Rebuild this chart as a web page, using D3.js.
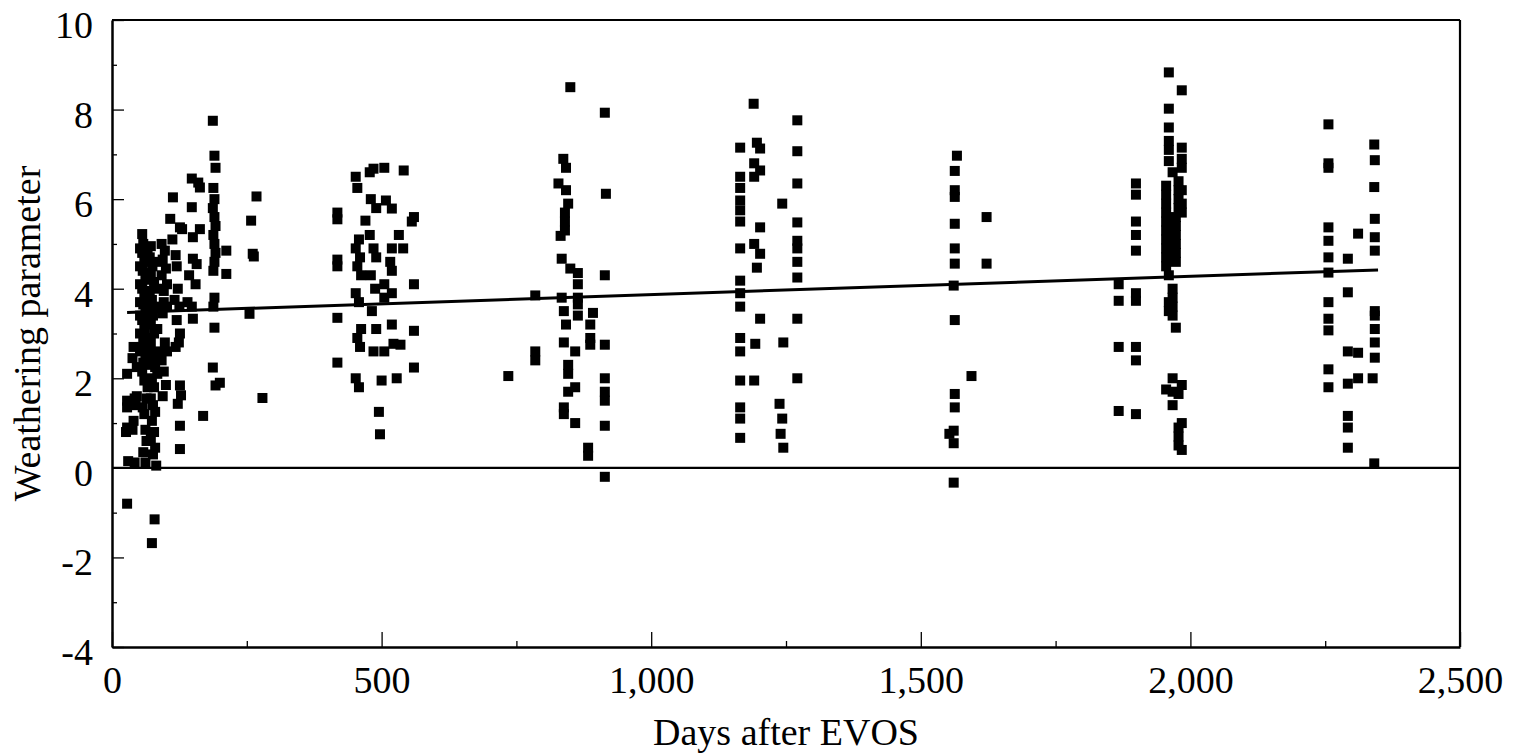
<!DOCTYPE html>
<html>
<head>
<meta charset="utf-8">
<script src="https://cdn.jsdelivr.net/npm/d3@7"></script>
<style>
  body { margin: 0; background: #fff; }
  svg { display: block; }
</style>
</head>
<body>
<svg width="1521" height="756"></svg>
<script>
// points as [days after EVOS, weathering parameter], grouped by field season
const season1989 = [
  [28,2.1],[28,1.5],[28,1.35],[28,0.9],[26,0.8],[30,0.15],[28,-0.8],
  [40,2.7],[38,2.45],[42,1.55],[44,1.4],[40,1.05],[38,0.85],[42,0.12],[46,2.25],[46,1.6],
  [56,5.22],[58,5.0],[56,4.8],[60,4.6],[57,4.4],[62,4.2],[56,4.0],[60,3.85],[58,3.65],[62,3.5],
  [56,3.3],[60,3.1],[58,2.9],[55,2.7],[62,2.55],[58,2.35],[56,2.15],[60,1.95],[64,1.55],[57,1.35],
  [60,1.2],[62,0.85],[64,0.6],[58,0.35],[62,0.12],
  [52,4.9],[52,4.5],[52,4.1],[52,3.7],[52,3.4],[52,3.0],[52,2.6],[66,4.8],[66,4.3],[66,3.9],
  [66,3.3],[66,2.9],[66,2.3],[66,1.8],[84,4.6],[84,4.0],[84,3.6],[84,3.1],[84,2.6],[84,2.1],
  [72,4.95],[70,4.7],[75,4.5],[72,4.35],[78,4.15],[70,3.95],[74,3.75],[70,3.55],[76,3.4],[72,3.2],
  [78,3.0],[72,2.8],[70,2.6],[76,2.45],[80,2.25],[74,2.0],[78,1.8],[72,1.55],[76,1.4],[80,1.25],
  [74,1.05],[78,0.8],[72,0.65],[80,0.45],[76,0.3],[82,0.05],[79,-1.15],[74,-1.68],
  [92,5.0],[98,4.85],[94,4.65],[100,4.45],[92,4.3],[96,3.7],[102,3.6],[94,3.45],[98,2.8],[102,2.6],
  [92,2.4],[96,2.15],[100,1.85],[94,1.6],[102,4.1],[96,3.95],
  [108,5.56],[113,6.04],[112,5.1],[118,4.75],[120,4.5],[126,5.37],[122,4.0],[116,3.75],[125,3.6],
  [120,3.3],[126,3.0],[124,2.8],[118,2.7],[126,1.84],[128,1.62],[122,1.43],[126,0.94],[126,0.42],[130,5.33],
  [148,6.46],[163,6.26],[148,5.82],[163,5.33],[150,5.15],[150,4.67],[143,4.3],[148,3.6],[150,3.33],
  [169,1.16],[157,4.55],[160,6.37],[140,3.7],[155,4.1],
  [187,7.75],[190,6.97],[192,6.7],[188,6.25],[190,6.0],[187,5.8],[190,5.6],[192,5.4],[188,5.2],
  [190,5.0],[192,4.8],[190,4.6],[188,4.4],[190,3.8],[188,3.6],[190,3.13],[187,2.24],[192,1.84],[200,1.9],
  [212,4.85],[212,4.33],
  [268,6.06],[258,5.52],[261,4.78],[263,4.72],[255,3.44],[279,1.56]
];

const season1990 = [
  [418,5.7],[418,5.55],[418,4.65],[418,4.5],[418,3.35],[418,2.35],
  [452,6.5],[455,6.25],[458,5.1],[452,4.9],[460,4.7],[455,4.5],[462,4.3],[452,3.9],[458,3.7],
  [462,3.1],[455,2.9],[460,2.7],[452,2.0],[458,1.8],
  [478,6.6],[485,6.68],[480,6.0],[490,5.8],[478,5.2],[485,4.9],[490,4.7],[480,4.3],[488,4.0],
  [482,3.5],[490,3.1],[485,2.6],[495,1.25],[497,0.75],[470,5.52],
  [505,6.7],[508,5.97],[519,5.79],[519,4.9],[516,4.6],[519,4.4],[505,4.1],[519,3.9],[505,3.8],
  [519,3.2],[522,2.77],[505,2.6],[528,2.0],[500,1.95],
  [541,6.64],[532,5.2],[560,5.6],[556,5.5],[560,4.1],[560,3.06],[560,2.24],[540,4.9],[535,2.75]
];

const season1991 = [
  [735,2.05],[785,3.85],[785,2.6],[785,2.4],
  [837,6.9],[842,6.7],[828,6.35],[842,6.2],[846,5.9],[840,5.7],[840,5.5],[840,5.3],[832,5.18],
  [850,8.5],[834,4.67],[850,4.45],
  [864,4.35],[864,4.1],[864,3.8],[834,3.8],[838,3.5],[864,3.65],[864,3.4],[892,3.46],[887,3.2],
  [887,2.9],[887,2.75],[842,3.2],[838,2.8],[859,2.6],[846,2.3],[846,2.1],[846,1.7],[859,1.8],
  [838,1.35],[838,1.2],[859,1.0],[883,0.45],[883,0.27],
  [914,7.93],[916,6.12],[914,4.3],[914,2.75],[914,2.0],[914,1.7],[914,1.5],[914,0.94],[914,-0.2]
];

const season1992 = [
  [1190,8.13],[1271,7.76],[1165,7.15],[1196,7.26],[1202,7.13],[1271,7.07],[1191,6.8],[1202,6.64],
  [1165,6.5],[1191,6.5],[1165,6.25],[1165,5.97],[1271,6.35],[1243,5.9],[1165,5.75],[1165,5.5],
  [1202,5.37],[1271,5.48],[1191,5.0],[1202,4.78],[1196,4.47],[1165,4.9],[1271,5.07],[1271,4.9],
  [1271,4.6],[1271,4.25],[1165,4.18],[1165,3.9],[1165,3.6],[1202,3.33],[1271,3.33],[1165,2.9],
  [1165,2.6],[1193,2.77],[1245,2.8],[1165,1.95],[1191,1.95],[1271,2.0],[1165,1.35],[1165,1.1],
  [1238,1.43],[1243,1.1],[1240,0.76],[1245,0.45],[1165,0.67]
];

const season1993 = [
  [1567,6.97],[1563,6.63],[1563,6.2],[1563,6.05],[1563,5.45],[1563,4.9],[1563,4.56],[1561,4.07],
  [1622,5.6],[1622,4.56],[1563,3.3],[1594,2.05],[1563,1.65],[1563,1.35],[1561,0.83],[1553,0.76],
  [1561,0.55],[1561,-0.33]
];

const season1994 = [
  [1899,6.35],[1899,6.1],[1899,5.5],[1899,5.2],[1899,4.85],[1867,4.1],[1867,3.73],[1899,3.9],
  [1899,3.73],[1867,2.7],[1899,2.7],[1899,2.4],[1867,1.27],[1899,1.2],
  [1960,8.83],[1984,8.43],[1960,8.02],[1960,7.6],[1960,7.3],[1960,7.1],[1984,7.15],[1984,6.9],
  [1984,6.7],[1960,6.85],[1978,6.4],[1978,6.2],[1978,6.0],[1978,5.8],[1955,6.3],[1955,6.1],
  [1955,5.9],[1955,5.7],[1955,5.5],[1955,5.3],[1955,5.1],[1955,4.9],[1955,4.7],[1955,4.5],
  [1973,5.6],[1973,5.4],[1973,5.2],[1973,5.0],[1973,4.8],[1973,4.6],[1967,6.6],[1967,4.0],
  [1967,3.8],[1967,3.6],[1967,3.4],[1960,3.7],[1960,3.5],[1973,3.13],[1967,2.0],[1967,1.7],
  [1967,1.4],[1978,1.65],[1955,1.75],[1978,0.9],[1978,0.7],[1978,0.5],[1984,0.4],[1984,1.0],
  [1984,1.85],[1960,4.3],[1984,6.2],[1984,5.9],[1984,5.7]
];

const season1995 = [
  [2256,7.67],[2256,6.8],[2256,6.7],[2256,5.37],[2256,5.07],[2256,4.7],[2256,4.36],[2256,3.7],
  [2256,3.33],[2256,3.07],[2256,2.2],[2256,1.8],
  [2292,4.67],[2292,3.92],[2292,2.6],[2311,2.57],[2311,5.23],[2311,2.0],[2292,1.88],[2292,1.16],
  [2292,0.9],[2292,0.45],
  [2341,7.22],[2342,6.87],[2341,6.27],[2342,5.56],[2342,5.15],[2342,4.85],[2342,3.5],[2342,3.4],
  [2342,3.1],[2342,2.8],[2342,2.46],[2338,2.0],[2341,0.1]
];

// regression line end points
const trendDays = [28, 2348];
const trendValues = [3.47, 4.42];

const xTicks = [0, 500, 1000, 1500, 2000, 2500];
const xMinor = [250, 750, 1250, 1750, 2250];
const yTicks = [-4, -2, 0, 2, 4, 6, 8, 10];
const yMinor = [-3, -1, 1, 3, 5, 7, 9];

const allPoints = [].concat(season1989, season1990, season1991, season1992,
                            season1993, season1994, season1995);

const svg = d3.select("svg");
const font = "'Liberation Serif', 'Times New Roman', serif";

const area = { left: 112, right: 1460, top: 20, bottom: 647 };

const scX = d3.scaleLinear().domain([0, 2500]).range([area.left, area.right]);
const scY = d3.scaleLinear().domain([-4, 10]).range([area.bottom, area.top]);

// thousands comma, plain hyphen for negatives
const fmtX = d => d >= 1000 ? Math.floor(d / 1000) + "," + String(d % 1000).padStart(3, "0") : String(d);
const fmtY = d => (d < 0 ? "-" : "") + Math.abs(d);

// x axis (ticks point inward)
svg.append("g")
    .attr("transform", `translate(0, ${area.bottom})`)
    .call(d3.axisBottom(scX).tickValues(xTicks).tickSizeInner(-15).tickSizeOuter(0)
          .tickPadding(19).tickFormat(fmtX));
svg.append("g")
    .attr("transform", `translate(0, ${area.bottom})`)
    .call(d3.axisBottom(scX).tickValues(xMinor).tickSizeInner(-6).tickSizeOuter(0).tickFormat(""))
    .select(".domain").remove();

// y axis
const gy = svg.append("g")
    .attr("transform", `translate(${area.left}, 0)`)
    .call(d3.axisLeft(scY).tickValues(yTicks).tickSizeInner(-12).tickSizeOuter(0)
          .tickPadding(19).tickFormat(fmtY));
svg.append("g")
    .attr("transform", `translate(${area.left}, 0)`)
    .call(d3.axisLeft(scY).tickValues(yMinor).tickSizeInner(-5).tickSizeOuter(0).tickFormat(""))
    .select(".domain").remove();

svg.selectAll(".domain").attr("stroke", "#000").attr("stroke-width", 2.5);
svg.selectAll(".tick line").attr("stroke", "#000").attr("stroke-width", 1.3);
svg.selectAll(".tick text")
    .attr("fill", "#000")
    .style("font-family", font)
    .style("font-size", "38px");
gy.selectAll(".tick text").attr("dy", "0.46em");

// top and right of the frame
svg.append("line")
    .attr("x1", scX(0)).attr("x2", scX(2500))
    .attr("y1", scY(10)).attr("y2", scY(10))
    .attr("stroke", "#000").attr("stroke-width", 2.2);
svg.append("line")
    .attr("x1", scX(2500)).attr("x2", scX(2500))
    .attr("y1", scY(10)).attr("y2", scY(-4))
    .attr("stroke", "#000").attr("stroke-width", 2.2);

// zero line
svg.append("line")
    .attr("x1", scX(0)).attr("x2", scX(2500))
    .attr("y1", scY(0)).attr("y2", scY(0))
    .attr("stroke", "#000").attr("stroke-width", 2.2);

// trend line
const trend = trendDays.map((d, i) => ({ x: d, y: trendValues[i] }));
svg.append("path")
    .datum(trend)
    .attr("d", d3.line().x(d => scX(d.x)).y(d => scY(d.y)))
    .attr("stroke", "#000")
    .attr("stroke-width", 3)
    .attr("fill", "none");

// points
const s = 10;
svg.selectAll(".pt")
    .data(allPoints)
    .enter()
    .append("rect")
    .attr("class", "pt")
    .attr("x", d => scX(d[0]) - s / 2)
    .attr("y", d => scY(d[1]) - s / 2)
    .attr("width", s)
    .attr("height", s)
    .attr("fill", "#000");

// axis titles
svg.append("text")
    .attr("x", (area.left + area.right) / 2)
    .attr("y", 745)
    .attr("text-anchor", "middle")
    .style("font-family", font)
    .style("font-size", "38px")
    .text("Days after EVOS");

svg.append("text")
    .attr("transform", `translate(40, ${(area.top + area.bottom) / 2}) rotate(-90)`)
    .attr("text-anchor", "middle")
    .style("font-family", font)
    .style("font-size", "38px")
    .text("Weathering parameter");
</script>
</body>
</html>
